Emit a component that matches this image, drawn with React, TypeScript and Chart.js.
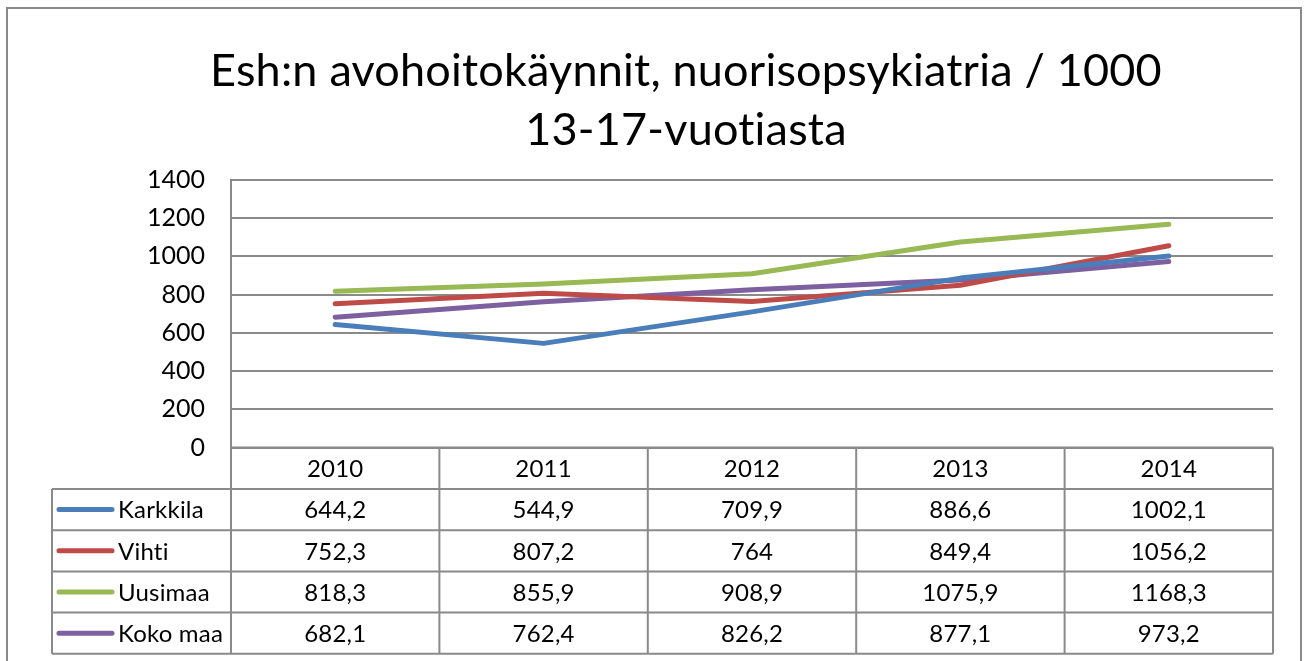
import React, { useEffect, useRef } from "react";
import { Chart, registerables } from "chart.js";

Chart.register(...registerables);

const titleLines = ["Esh:n avohoitokäynnit, nuorisopsykiatria / 1000", "13-17-vuotiasta"];
const years = ["2010", "2011", "2012", "2013", "2014"];
const karkkila = [644.2, 544.9, 709.9, 886.6, 1002.1];
const vihti = [752.3, 807.2, 764, 849.4, 1056.2];
const uusimaa = [818.3, 855.9, 908.9, 1075.9, 1168.3];
const kokoMaa = [682.1, 762.4, 826.2, 877.1, 973.2];
const seriesNames = ["Karkkila", "Vihti", "Uusimaa", "Koko maa"];
const seriesColors = ["#4A7EBB", "#BE4B48", "#98B954", "#7D60A0"];
const yMin = 0;
const yMax = 1400;
const yStep = 200;

const FONT = "Lato, 'Open Sans', sans-serif";
const GRID = "#8a8a8a";

const fmt = (v: number) => String(v).replace(".", ",");

const framePlugin = {
  id: "frame",
  afterDraw(chart: any) {
    const ctx = chart.ctx as any;
    const area = chart.chartArea;
    const xs = chart.scales.x;
    ctx.save();
    ctx.letterSpacing = "0.2px";
    // outer border
    ctx.strokeStyle = GRID;
    ctx.lineWidth = 2;
    ctx.strokeRect(7, 8, 1294, 720);

    // title
    ctx.fillStyle = "#000";
    ctx.textAlign = "center";
    ctx.textBaseline = "alphabetic";
    ctx.font = `45px ${FONT}`;
    ctx.fillText(titleLines[0], 686, 86);
    ctx.fillText(titleLines[1], 686, 145);

    // data table
    const n = years.length;
    const colW = (area.right - area.left) / n;
    const headTop = area.bottom;
    const headH = 41.5;
    const rowH = 41.2;
    const tableLeft = 52;
    const rowsTop = headTop + headH;
    const tableBottom = rowsTop + rowH * seriesNames.length;

    ctx.strokeStyle = GRID;
    ctx.lineWidth = 2;
    ctx.beginPath();
    ctx.moveTo(area.left, headTop);
    ctx.lineTo(area.right, headTop);
    for (let i = 0; i <= n; i++) {
      const x = area.left + colW * i;
      ctx.moveTo(x, headTop);
      ctx.lineTo(x, tableBottom);
    }
    for (let r = 0; r <= seriesNames.length; r++) {
      const y = rowsTop + rowH * r;
      ctx.moveTo(tableLeft, y);
      ctx.lineTo(area.right, y);
    }
    ctx.moveTo(tableLeft, rowsTop);
    ctx.lineTo(tableLeft, tableBottom);
    ctx.stroke();

    ctx.fillStyle = "#000";
    ctx.font = `24px ${FONT}`;
    ctx.textBaseline = "middle";
    ctx.textAlign = "center";
    years.forEach((yr, i) => {
      ctx.fillText(yr, xs.getPixelForValue(i), headTop + headH / 2 + 1);
    });
    chart.data.datasets.forEach((ds: any, r: number) => {
      const cy = rowsTop + rowH * r + rowH / 2 + 1;
      ctx.textAlign = "center";
      ctx.fillStyle = "#000";
      ds.data.forEach((v: number, i: number) => {
        ctx.fillText(fmt(v), xs.getPixelForValue(i), cy);
      });
      ctx.strokeStyle = ds.borderColor;
      ctx.lineWidth = 5;
      ctx.lineCap = "round";
      ctx.beginPath();
      ctx.moveTo(59, cy - 1);
      ctx.lineTo(112, cy - 1);
      ctx.stroke();
      ctx.textAlign = "left";
      ctx.fillText(ds.label, 118, cy);
    });
    ctx.restore();
  },
};

export default function App() {
  const ref = useRef<HTMLCanvasElement | null>(null);
  useEffect(() => {
    if (!ref.current) return;
    const values = [karkkila, vihti, uusimaa, kokoMaa];
    const chart = new Chart(ref.current, {
      type: "line",
      data: {
        labels: years,
        datasets: values.map((d, i) => ({
          label: seriesNames[i],
          data: d,
          borderColor: seriesColors[i],
          backgroundColor: seriesColors[i],
          borderWidth: 5,
          borderCapStyle: "round" as const,
          borderJoinStyle: "round" as const,
          pointRadius: 0,
          tension: 0,
          fill: false,
        })),
      },
      options: {
        responsive: false,
        animation: false,
        layout: { padding: { left: 8, right: 33, top: 180, bottom: 213.5 } },
        plugins: {
          legend: { display: false },
          title: { display: false },
          tooltip: { enabled: false },
        },
        scales: {
          x: { type: "category", display: false, offset: true },
          y: {
            min: yMin,
            max: yMax,
            afterFit(scale: any) {
              scale.width = 223;
            },
            ticks: {
              stepSize: yStep,
              padding: 26,
              color: "#000",
              font: { family: FONT, size: 25 },
              callback: (v: any) => String(v),
            },
            grid: { color: GRID, lineWidth: 2, drawTicks: false },
            border: { display: true, color: GRID, width: 2 },
          },
        },
      },
      plugins: [framePlugin],
    });
    return () => chart.destroy();
  }, []);
  return (
    <div style={{ position: "fixed", left: 0, top: 0, width: 1306, height: 661, background: "#fff" }}>
      <canvas ref={ref} width={1306} height={661} style={{ width: 1306, height: 661, display: "block" }} />
    </div>
  );
}
